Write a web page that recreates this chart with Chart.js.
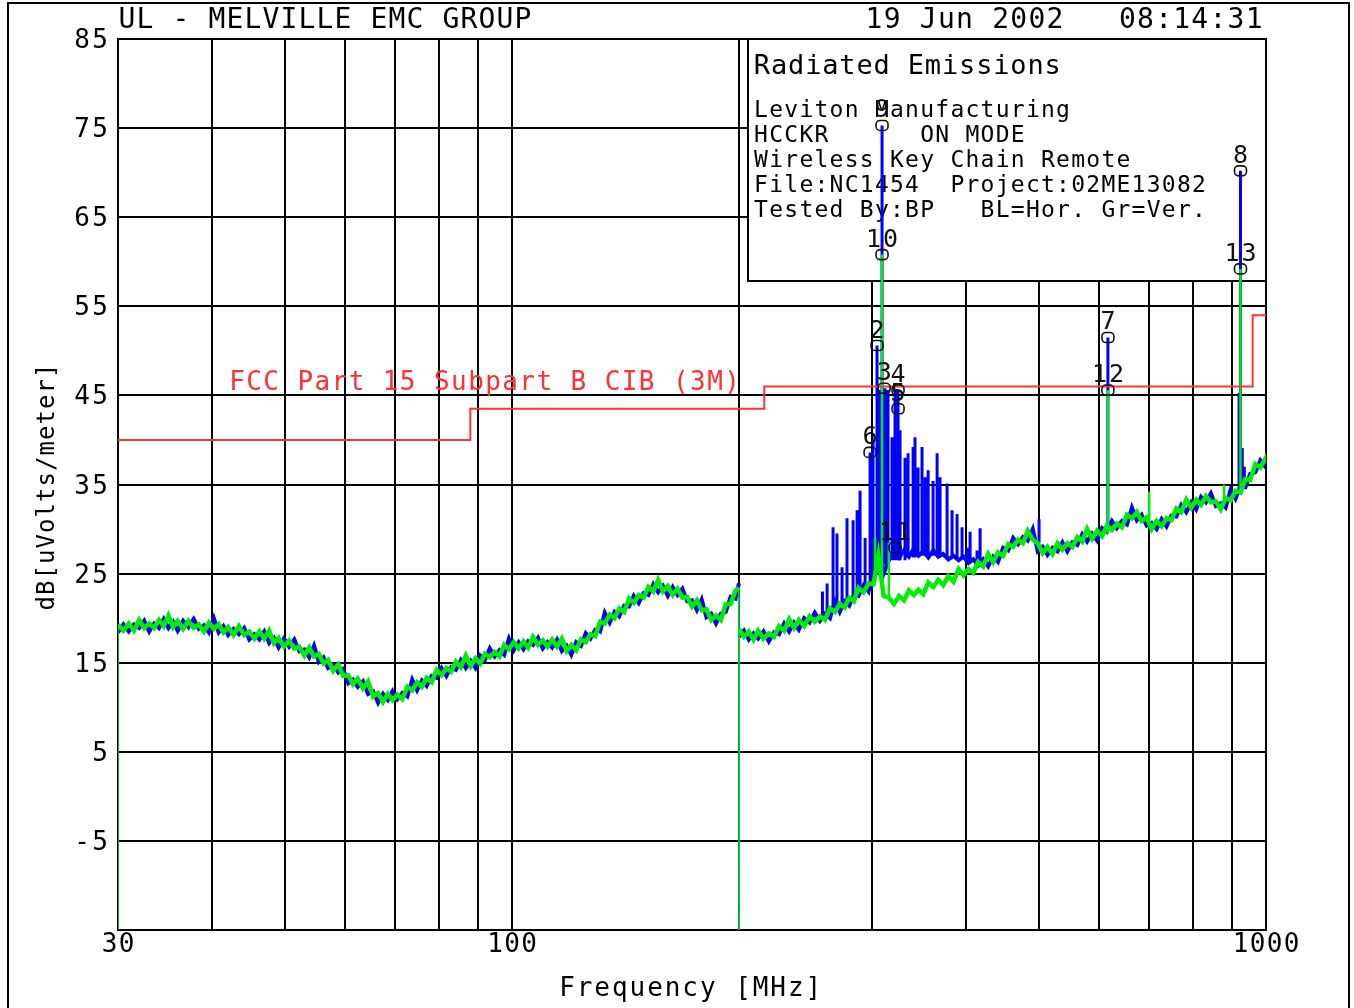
<!DOCTYPE html>
<html lang="en">
<head>
<meta charset="UTF-8">
<title>Radiated Emissions - NC1454</title>
<script src="https://cdn.jsdelivr.net/npm/chart.js@4.4.1/dist/chart.umd.min.js"></script>
<style>
  html, body { margin: 0; padding: 0; background: #fff; overflow: hidden; }
  canvas { display: block; }
</style>
</head>
<body>
<canvas id="emc" width="1354" height="1008"></canvas>
<script>
// ---- data ----
// x grid / labelled frequencies (MHz), y grid (dBuV/m)
const xGridMHz = [30, 40, 50, 60, 70, 80, 90, 100, 200, 300, 400, 500, 600, 700, 800, 900, 1000];
const xLabelMHz = [30, 100, 1000];
const yTicks = [-15, -5, 5, 15, 25, 35, 45, 55, 65, 75, 85];
const yLabels = ['-5', '5', '15', '25', '35', '45', '55', '65', '75', '85'];

// FCC Part 15 B class B 3 m limit (step starts at each frequency)
const limitFreqMHz = [30, 88, 216, 960, 1000];
const limitLevel = [40, 43.5, 46, 54, 54];

// two sweeps (30-200 and 200-1000 MHz), each one starts from the bottom
const sweepFreqMHz = [
  30,
  30, 30.5, 31, 31.5, 32, 32.5, 33, 33.5, 34, 34.5,
  35, 35.5, 36, 36.6, 37.2, 37.8, 38.4, 39, 39.6, 40.2,
  40.8, 41.4, 42, 42.7, 43.4, 44.1, 44.8, 45.5, 46.2, 46.9,
  47.6, 48.3, 49, 49.8, 50.6, 51.4, 52.2, 53, 53.8, 54.6,
  55.4, 56.2, 57, 57.9, 58.8, 59.7, 60.6, 61.5, 62.4, 63.4,
  64.4, 65.4, 66.4, 67.4, 68.4, 69.4, 70.4, 71.5, 72.6, 73.7,
  74.8, 75.9, 77, 78.2, 79.4, 80.6, 81.8, 83, 84.2, 85.5,
  86.8, 88.1, 89.4, 90.7, 92, 93.4, 94.8, 96.2, 97.6, 99,
  100.5, 102, 103.5, 105, 106.6, 108.2, 109.8, 111.4, 113, 114.7,
  116.4, 118.1, 119.8, 121.6, 123.4, 125.2, 127, 128.9, 130.8, 132.7,
  134.7, 136.7, 138.7, 140.8, 142.9, 145, 147.2, 149.4, 151.6, 153.9,
  156.2, 158.5, 160.9, 163.3, 165.7, 168.2, 170.7, 173.2, 175.8, 178.4,
  181, 183.7, 186.4, 189.2, 192, 194.9, 197.8, 199.9,
  200,
  200, 203, 206, 209, 212, 215.5, 219, 222.5, 226, 229.5,
  233, 236.5, 240, 244, 248, 252, 256, 260, 264, 268,
  272, 276, 280, 284, 288, 292.5, 297, 301.5, 306, 311,
  316, 321, 326, 331, 336, 341, 346, 351, 356.5, 362,
  367.5, 373, 379, 385, 391, 397, 403, 409, 415, 421.5,
  428, 434.5, 441, 448, 455, 462, 469, 476, 483, 490.5,
  498, 505.5, 513, 521, 529, 537, 545, 553.5, 562, 570.5,
  579, 588, 597, 606, 615, 624.5, 634, 644, 654, 664,
  674, 684, 694.5, 705, 716, 727, 738, 749, 760.5, 772,
  784, 796, 808, 820, 832.5, 845, 858, 871, 884, 897.5,
  911, 925, 939, 953, 968, 983, 998, 1000
];

// green = vertical antenna
const verLevel = [
  -15,
  19.3, 18.6, 19.4, 18.6, 19.8, 18.9, 19.4, 18.9, 19.8, 19.1,
  20.3, 19.0, 19.7, 18.8, 19.7, 18.9, 19.3, 18.5, 19.5, 18.8,
  19.3, 18.4, 19.0, 18.1, 19.1, 18.1, 18.5, 17.7, 18.5, 17.7,
  18.6, 17.2, 17.8, 16.8, 17.5, 16.6, 16.8, 15.8, 16.7, 15.7,
  16.0, 14.9, 15.3, 14.1, 14.8, 13.5, 13.6, 12.6, 13.2, 12.1,
  12.9, 11.2, 11.6, 10.6, 11.5, 10.8, 11.4, 10.9, 12.3, 11.9,
  12.8, 12.3, 13.3, 12.8, 14.2, 13.6, 14.4, 14.0, 15.1, 14.5,
  15.8, 14.6, 15.5, 14.9, 16.0, 15.6, 16.2, 15.7, 17.0, 16.5,
  17.3, 16.6, 17.4, 16.7, 17.9, 17.0, 17.5, 16.8, 17.6, 16.8,
  17.7, 16.3, 17.0, 16.4, 17.6, 17.3, 18.2, 18.0, 19.6, 19.4,
  20.4, 20.0, 21.1, 20.7, 22.2, 21.7, 22.6, 22.3, 23.5, 23.0,
  24.3, 23.0, 23.6, 22.6, 23.3, 22.3, 22.4, 21.3, 22.0, 20.9,
  21.0, 19.8, 20.3, 19.8, 21.6, 21.6, 23.1, 23.4,
  -15,
  18.8, 17.9, 18.5, 17.6, 18.6, 17.7, 18.3, 17.9, 19.1, 18.6,
  19.9, 18.9, 19.8, 19.1, 20.2, 19.6, 20.2, 19.8, 21.1, 20.7,
  21.6, 21.2, 22.3, 21.9, 23.4, 22.9, 23.9, 23.8, 27.0, 22.5,
  22.3, 21.6, 22.5, 22.0, 23.1, 22.6, 23.2, 22.7, 24.0, 23.5,
  24.3, 23.7, 24.7, 24.1, 25.5, 24.8, 25.5, 25.1, 26.3, 25.8,
  27.2, 26.3, 27.4, 27.0, 28.3, 28.0, 28.8, 28.4, 29.8, 28.8,
  28.4, 27.3, 28.0, 27.2, 28.4, 27.7, 28.4, 28.0, 29.1, 28.6,
  30.0, 28.9, 29.8, 29.2, 30.4, 29.9, 30.6, 30.2, 31.6, 31.2,
  31.9, 30.9, 31.3, 30.0, 30.9, 30.3, 31.2, 31.0, 32.3, 31.9,
  33.3, 32.4, 33.3, 32.7, 33.7, 33.0, 33.1, 32.2, 33.5, 33.2,
  34.3, 34.1, 35.6, 35.5, 37.3, 36.9, 37.9, 37.6
];

// blue = horizontal antenna
const horLevel = [
  -15,
  18.4, 19.3, 18.5, 19.3, 18.9, 19.7, 18.5, 19.4, 18.9, 19.9,
  18.9, 19.6, 18.6, 19.7, 19.0, 19.9, 18.8, 19.2, 18.4, 20.0,
  18.4, 19.1, 18.1, 18.8, 18.2, 18.9, 17.6, 18.2, 17.6, 18.5,
  17.2, 17.8, 16.7, 17.7, 16.8, 17.6, 16.3, 16.5, 15.6, 16.9,
  15.1, 15.6, 14.4, 14.8, 13.9, 14.3, 12.7, 13.1, 12.3, 12.9,
  11.5, 11.8, 10.5, 11.5, 10.8, 11.8, 10.9, 11.6, 11.2, 13.1,
  11.9, 13.0, 12.4, 13.5, 13.3, 14.4, 13.5, 14.5, 14.2, 15.3,
  14.4, 15.2, 14.4, 15.8, 15.3, 16.6, 15.7, 16.4, 15.9, 17.7,
  16.4, 17.3, 16.5, 17.4, 17.0, 17.8, 16.6, 17.3, 16.7, 17.6,
  16.3, 16.9, 15.9, 17.3, 16.9, 18.3, 17.7, 18.7, 18.5, 20.6,
  19.5, 20.7, 20.2, 21.4, 21.3, 22.5, 21.7, 22.8, 22.6, 23.8,
  22.9, 23.6, 22.5, 23.5, 22.6, 23.3, 21.9, 22.0, 20.9, 22.1,
  20.1, 20.5, 19.4, 20.5, 20.7, 22.4, 22.2, 23.9,
  -15,
  17.9, 18.6, 17.6, 18.3, 17.7, 18.5, 17.4, 18.4, 18.2, 19.4,
  18.5, 19.5, 18.7, 20.0, 19.5, 20.6, 19.7, 20.5, 20.0, 21.9,
  20.7, 21.9, 21.4, 22.6, 22.5, 23.7, 23.0, 25.5, 28.0, 25.0,
  26.5, 27.5, 26.8, 27.6, 26.9, 27.8, 27.0, 27.5, 26.8, 27.6,
  26.9, 27.2, 26.6, 27.0, 26.5, 26.9, 26.2, 26.6, 25.9, 26.6,
  25.8, 26.9, 26.3, 27.9, 27.6, 29.0, 28.3, 29.1, 28.7, 30.0,
  27.5, 28.0, 27.1, 27.9, 27.5, 28.5, 27.5, 28.5, 28.2, 29.4,
  28.6, 29.5, 28.7, 30.1, 29.7, 30.9, 30.1, 30.9, 30.5, 32.4,
  31.0, 31.6, 30.4, 30.7, 30.0, 31.1, 30.3, 31.5, 31.4, 32.7,
  31.9, 33.0, 32.2, 33.6, 33.0, 34.0, 32.6, 32.9, 32.4, 34.4,
  33.4, 34.8, 34.7, 36.2, 36.4, 37.7, 37.0, 38.1
];

// narrow emissions: frequency, floor under the line, top of the line
const horPeakFreqMHz = [258, 261.7, 266.5, 269.7, 273.9, 278.1, 283.3, 286.8, 289.4, 293.9,
  298.4, 301.1, 304.8, 306.6, 309.5, 312.3, 315.2, 319.1, 322, 325,
  327, 332, 335.1, 340.3, 342.3, 345.5, 349.7, 353, 356.3, 361.7,
  366.2, 369.5, 377.5, 383.3, 389.2, 395.2, 401.3, 405, 413.7, 417.6,
  500, 617, 921, 923, 925, 930, 936];
const horPeakFloor = [20.2, 20.4, 20.8, 21.0, 21.3, 21.6, 22.1, 22.5, 22.8, 23.2,
  23.6, 24.0, 25.0, 25.5, 25.5, 26.0, 26.0, 26.5, 26.5, 26.5,
  26.5, 26.5, 26.8, 26.8, 26.8, 27.0, 27.0, 27.0, 27.0, 27.0,
  27.0, 27.0, 26.8, 26.8, 26.7, 26.6, 26.4, 26.2, 26.2, 26.3,
  28.5, 30.0, 34.0, 34.0, 34.2, 34.5, 34.8];
const horPeakTop = [23.0, 23.9, 30.2, 29.5, 25.7, 31.2, 31.0, 32.1, 34.3, 29.0,
  38.6, 40.0, 50.6, 45.6, 75.3, 45.8, 45.6, 40.3, 45.6, 45.6,
  41.1, 38.0, 38.5, 39.2, 40.3, 36.9, 39.2, 35.8, 36.6, 35.4,
  38.5, 35.8, 35.1, 32.1, 31.7, 30.2, 27.9, 29.7, 27.6, 30.1,
  31.1, 51.5, 45.3, 41.9, 70.2, 39.1, 37.0];

const verPeakFreqMHz = [303, 309.5, 316, 617, 700, 880, 925];
const verPeakFloor = [24.0, 24.0, 22.0, 29.5, 31.0, 32.8, 34.2];
const verPeakTop = [29.0, 60.8, 28.5, 45.6, 34.2, 35.0, 59.2];

// numbered markers
const markerLabel = ['9', '10', '2', '3', '4', '5', '6', '11', '7', '12', '8', '13'];
const markerFreqMHz = [309.5, 309.5, 304.8, 311.5, 325, 325, 298.4, 322, 617, 617, 925, 925];
const markerLevel = [75.3, 60.8, 50.6, 45.8, 45.6, 43.5, 38.6, 27.9, 51.5, 45.6, 70.2, 59.2];

const infoTitle = 'Radiated Emissions';
const infoLines = [
  'Leviton Manufacturing',
  'HCCKR      ON MODE',
  'Wireless Key Chain Remote',
  'File:NC1454  Project:02ME13082',
  'Tested By:BP   BL=Hor. Gr=Ver.'
];

// ---- drawing ----
const MONO = '"DejaVu Sans Mono", "Liberation Mono", monospace';
const FLOOR = -15;

// plotter-style text: every glyph sits in a fixed-pitch cell
function plotText(ctx, text, x0, y, pitch) {
  ctx.textAlign = 'center';
  ctx.textBaseline = 'alphabetic';
  for (let i = 0; i < text.length; i++) {
    if (text[i] !== ' ') ctx.fillText(text[i], x0 + i * pitch, y);
  }
}

function roundBox(ctx, x, y, w, h, r) {
  ctx.beginPath();
  ctx.moveTo(x + r, y);
  ctx.arcTo(x + w, y, x + w, y + h, r);
  ctx.arcTo(x + w, y + h, x, y + h, r);
  ctx.arcTo(x, y + h, x, y, r);
  ctx.arcTo(x, y, x + w, y, r);
  ctx.closePath();
  ctx.stroke();
}

const plotDecor = {
  id: 'plotDecor',
  beforeDraw(chart) {
    const ctx = chart.ctx;
    ctx.save();
    ctx.fillStyle = '#fff';
    ctx.fillRect(0, 0, chart.width, chart.height);
    // page frame
    ctx.strokeStyle = '#000';
    ctx.lineWidth = 2;
    ctx.beginPath();
    ctx.moveTo(8, chart.height);
    ctx.lineTo(8, 3);
    ctx.lineTo(1349, 3);
    ctx.lineTo(1349, chart.height);
    ctx.stroke();
    ctx.restore();
  },
  beforeDatasetsDraw(chart) {
    const ctx = chart.ctx;
    const a = chart.chartArea;
    const xs = chart.scales.x, ys = chart.scales.y;
    ctx.save();
    ctx.fillStyle = '#000';

    // header
    ctx.font = '28px ' + MONO;
    plotText(ctx, 'UL - MELVILLE EMC GROUP', 127, 28, 18);
    plotText(ctx, '19 Jun 2002   08:14:31', 874, 28, 18.1);

    // info box over the grid
    ctx.fillStyle = '#fff';
    ctx.fillRect(748, a.top, a.right - 748, 242);
    ctx.strokeStyle = '#000';
    ctx.lineWidth = 2;
    ctx.strokeRect(748, a.top, a.right - 748, 242);
    ctx.fillStyle = '#000';
    ctx.font = '27px ' + MONO;
    plotText(ctx, infoTitle, 762, 74, 17.1);
    ctx.font = '23px ' + MONO;
    infoLines.forEach((s, i) => plotText(ctx, s, 761, 117 + i * 25, 15.1));

    // tick labels
    ctx.font = '26px ' + MONO;
    yTicks.forEach(v => {
      const s = String(v);
      if (!yLabels.includes(s)) return;
      const py = ys.getPixelForValue(v);
      plotText(ctx, s, 100 - (s.length - 1) * 18, py + 9, 18);
    });
    xLabelMHz.forEach(f => {
      const s = String(f);
      const px = xs.getPixelForValue(f);
      plotText(ctx, s, px - (s.length - 1) * 17 / 2, 952, 17);
    });

    // axis titles
    plotText(ctx, 'Frequency [MHz]', 567, 996, 17.6);
    ctx.save();
    ctx.translate(46, 487);
    ctx.rotate(-Math.PI / 2);
    ctx.font = '24px ' + MONO;
    const yt = 'dB[uVolts/meter]';
    plotText(ctx, yt, -(yt.length - 1) * 15.5 / 2, 8, 15.5);
    ctx.restore();

    // limit caption
    ctx.fillStyle = '#ff3030';
    ctx.font = '26px ' + MONO;
    plotText(ctx, 'FCC Part 15 Subpart B CIB (3M)', 237, 390, 17.07);
    ctx.restore();
  },
  afterDatasetsDraw(chart) {
    const ctx = chart.ctx;
    const xs = chart.scales.x, ys = chart.scales.y;
    ctx.save();
    ctx.strokeStyle = '#111';
    ctx.fillStyle = '#111';
    ctx.lineWidth = 1.6;
    ctx.font = '25px ' + MONO;
    markerLabel.forEach((lab, i) => {
      const px = xs.getPixelForValue(markerFreqMHz[i]);
      const py = ys.getPixelForValue(markerLevel[i]);
      roundBox(ctx, px - 6, py - 5, 12, 10, 4);
      plotText(ctx, lab, px - (lab.length - 1) * 17 / 2, py - 8, 17);
    });
    ctx.restore();
  }
};

const asPoints = (fs, vs) => fs.map((f, i) => ({ x: f, y: vs[i] }));
const asPeaks = (fs, lo, hi) => fs.flatMap((f, i) => [
  { x: f, y: lo[i] }, { x: f, y: hi[i] }, { x: f, y: null }
]);
// sweep start/stop drops are drawn thin, the trace itself thick
const sweepWidth = w => ctx =>
  (ctx.p0.parsed.y === FLOOR || ctx.p1.parsed.y === FLOOR) ? 1.5 : w;

new Chart(document.getElementById('emc'), {
  type: 'line',
  data: {
    datasets: [
      {
        label: 'FCC Part 15 B limit',
        data: asPoints(limitFreqMHz, limitLevel),
        borderColor: '#ff3333',
        borderWidth: 2,
        stepped: 'before',
        order: 0
      },
      {
        label: 'Ver. peaks',
        data: asPeaks(verPeakFreqMHz, verPeakFloor, verPeakTop),
        borderColor: '#00ee00',
        borderWidth: 2.5,
        spanGaps: false,
        order: 1
      },
      {
        label: 'Ver.',
        data: asPoints(sweepFreqMHz, verLevel),
        borderColor: '#00ee00',
        borderWidth: 4.5,
        segment: { borderWidth: sweepWidth(4.5) },
        order: 2
      },
      {
        label: 'Hor. peaks',
        data: asPeaks(horPeakFreqMHz, horPeakFloor, horPeakTop),
        borderColor: '#0000ff',
        borderWidth: 3,
        spanGaps: false,
        order: 3
      },
      {
        label: 'Hor.',
        data: asPoints(sweepFreqMHz, horLevel),
        borderColor: '#0000ff',
        borderWidth: 4,
        segment: { borderWidth: sweepWidth(4) },
        order: 4
      }
    ]
  },
  options: {
    responsive: false,
    animation: false,
    devicePixelRatio: 1,
    layout: { padding: { left: 118, right: 88, top: 39, bottom: 78 } },
    plugins: { legend: { display: false }, tooltip: { enabled: false } },
    elements: { point: { radius: 0 }, line: { tension: 0 } },
    scales: {
      x: {
        type: 'logarithmic',
        min: 30,
        max: 1000,
        afterBuildTicks: s => { s.ticks = xGridMHz.map(v => ({ value: v })); },
        ticks: { display: false },
        grid: { color: '#000', lineWidth: 2, drawTicks: false },
        border: { color: '#000', width: 2 }
      },
      y: {
        type: 'linear',
        min: -15,
        max: 85,
        afterBuildTicks: s => { s.ticks = yTicks.map(v => ({ value: v })); },
        ticks: { display: false },
        grid: { color: '#000', lineWidth: 2, drawTicks: false },
        border: { color: '#000', width: 2 }
      }
    }
  },
  plugins: [plotDecor]
});
</script>
</body>
</html>
